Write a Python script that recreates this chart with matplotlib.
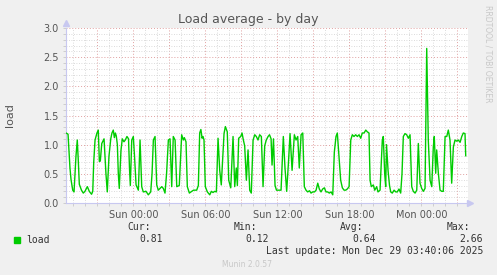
import matplotlib
matplotlib.use("Agg")
import matplotlib.pyplot as plt
from matplotlib.ticker import MultipleLocator, FuncFormatter

# ---- data: hours relative to Sun 00:00, load average ----
hours = [-5.61, -5.44, -5.28, -5.19, -5.05, -4.94, -4.78, -4.67, -4.58, -4.5,
         -4.32, -4.17, -4.03, -3.83, -3.67, -3.48, -3.38, -3.3, -3.19, -3.03,
         -2.92, -2.83, -2.75, -2.63, -2.44, -2.28, -2.17, -2.03, -1.88, -1.78,
         -1.67, -1.58, -1.5, -1.42, -1.33, -1.25, -1.17, -1.03, -0.92, -0.78,
         -0.67, -0.53, -0.4, -0.32, -0.25, -0.13, 0.0, 0.1, 0.23, 0.42,
         0.56, 0.7, 0.83, 1.06, 1.25, 1.45, 1.56, 1.67, 1.81, 1.95,
         2.08, 2.37, 2.5, 2.64, 2.77, 2.92, 3.06, 3.2, 3.33, 3.48,
         3.62, 3.83, 4.03, 4.17, 4.25, 4.39, 4.5, 4.67, 4.87, 5.02,
         5.14, 5.28, 5.42, 5.53, 5.63, 5.73, 5.81, 5.89, 6.0, 6.17,
         6.37, 6.5, 6.64, 6.78, 6.92, 7.06, 7.2, 7.33, 7.56, 7.67,
         7.83, 7.95, 8.12, 8.31, 8.45, 8.58, 8.67, 8.78, 8.95, 9.06,
         9.17, 9.28, 9.42, 9.56, 9.7, 9.83, 9.98, 10.12, 10.25, 10.39,
         10.53, 10.67, 10.81, 10.95, 11.08, 11.23, 11.35, 11.48, 11.56, 11.68,
         11.81, 11.93, 12.14, 12.31, 12.5, 12.64, 12.78, 12.93, 13.06, 13.23,
         13.42, 13.56, 13.7, 13.83, 13.98, 14.12, 14.25, 14.39, 14.53, 14.68,
         14.81, 14.95, 15.1, 15.23, 15.37, 15.5, 15.64, 15.78, 15.92, 16.06,
         16.2, 16.33, 16.48, 16.62, 16.75, 16.89, 17.0, 17.14, 17.28, 17.42,
         17.56, 17.7, 17.83, 17.98, 18.12, 18.25, 18.39, 18.53, 18.67, 18.81,
         18.95, 19.08, 19.23, 19.37, 19.5, 19.64, 19.73, 19.83, 20.0, 20.12,
         20.28, 20.39, 20.56, 20.75, 20.83, 20.95, 21.03, 21.1, 21.23, 21.35,
         21.45, 21.58, 21.73, 21.87, 22.0, 22.14, 22.28, 22.39, 22.5, 22.64,
         22.78, 22.92, 23.06, 23.2, 23.33, 23.48, 23.62, 23.75, 23.89, 24.03,
         24.17, 24.31, 24.45, 24.58, 24.73, 24.87, 25.0, 25.08, 25.2, 25.28,
         25.42, 25.56, 25.7, 25.83, 25.98, 26.12, 26.25, 26.39, 26.53, 26.67,
         26.81, 26.95, 27.08, 27.23, 27.37, 27.5, 27.64, 27.7]

load = [1.2, 1.18, 0.6, 0.4, 0.22, 0.19, 0.8, 1.08, 0.7, 0.32,
        0.22, 0.17, 0.2, 0.28, 0.2, 0.15, 0.2, 0.7, 1.08, 1.2,
        1.25, 0.71, 0.72, 1.02, 1.1, 0.5, 0.19, 0.8, 1.1, 1.2,
        1.25, 1.12, 1.2, 1.15, 1.0, 0.5, 0.25, 0.9, 1.1, 1.05,
        1.08, 1.14, 1.1, 0.6, 0.3, 1.08, 1.14, 0.8, 0.31, 0.22,
        1.08, 0.28, 0.19, 0.2, 0.14, 0.19, 0.5, 1.08, 1.14, 0.31,
        0.22, 0.28, 0.25, 0.17, 0.5, 1.08, 1.1, 0.28, 1.14, 1.08,
        0.28, 0.3, 1.17, 1.08, 1.12, 1.05, 0.28, 0.17, 0.2, 0.22,
        0.22, 0.22, 0.3, 1.2, 1.26, 1.11, 1.14, 1.08, 0.28, 0.19,
        0.14, 0.2, 0.18, 0.2, 0.19, 1.11, 0.56, 0.31, 1.19, 1.31,
        1.22, 0.39, 0.26, 1.14, 0.28, 0.6, 0.3, 1.11, 1.14, 1.2,
        1.08, 0.98, 0.39, 0.91, 0.22, 0.17, 1.08, 1.17, 1.14, 1.08,
        1.17, 1.14, 0.28, 0.98, 1.08, 1.14, 1.17, 1.1, 0.65, 1.1,
        0.3, 0.22, 0.22, 0.22, 1.14, 0.6, 0.2, 0.7, 1.19, 0.56,
        1.17, 1.08, 1.14, 0.6, 1.17, 1.2, 0.28, 0.22, 0.19, 0.21,
        0.17, 0.19, 0.19, 0.22, 0.34, 0.24, 0.19, 0.24, 0.26, 0.19,
        0.19, 0.17, 0.19, 0.14, 0.87, 1.14, 1.2, 0.8, 0.39, 0.26,
        0.22, 0.22, 0.24, 0.28, 1.08, 1.17, 1.14, 1.17, 1.14, 1.17,
        1.11, 1.2, 1.2, 1.25, 1.22, 1.2, 0.39, 0.28, 0.31, 0.22,
        0.28, 0.19, 0.22, 1.08, 1.14, 0.5, 0.28, 1.0, 0.55, 0.3,
        0.19, 0.17, 0.22, 0.19, 0.19, 0.24, 0.17, 0.5, 1.14, 1.19,
        1.17, 1.11, 1.17, 0.28, 0.2, 0.17, 0.22, 1.02, 0.34, 0.25,
        0.2, 0.25, 2.65, 1.08, 0.39, 0.28, 0.96, 1.14, 0.51, 0.91,
        0.51, 0.22, 0.2, 0.2, 1.14, 1.14, 1.25, 1.08, 0.34, 0.96,
        1.08, 1.06, 1.08, 1.04, 1.14, 1.2, 1.19, 0.81]

tick_hours = [0, 6, 12, 18, 24]
tick_labels = ["Sun 00:00", "Sun 06:00", "Sun 12:00", "Sun 18:00", "Mon 00:00"]
x_range = (-5.61, 27.89)
y_range = (0.0, 3.0)

series_name = "load"
stat_names = ["Cur:", "Min:", "Avg:", "Max:"]
stat_values = ["0.81", "0.12", "0.64", "2.66"]
title = "Load average - by day"
last_update = "Last update: Mon Dec 29 03:40:06 2025"
footer = "Munin 2.0.57"
side_text = "RRDTOOL / TOBI OETIKER"

# ---- figure ----
W, H = 497, 275
fig = plt.figure(figsize=(W / 100, H / 100), dpi=100, facecolor="#F0F0F0")
ax = fig.add_axes([66 / W, 1 - 203 / H, (468 - 66) / W, (203 - 28) / H])
ax.set_facecolor("white")

ax.plot(hours, load, color="#00CC00", lw=1.0, zorder=3)

ax.set_xlim(*x_range)
ax.set_ylim(*y_range)

ax.xaxis.set_major_locator(MultipleLocator(3))
ax.xaxis.set_minor_locator(MultipleLocator(1))
lab = dict(zip(tick_hours, tick_labels))
ax.xaxis.set_major_formatter(FuncFormatter(lambda v, p: lab.get(int(round(v)), "")))
ax.yaxis.set_major_locator(MultipleLocator(0.5))
ax.yaxis.set_minor_locator(MultipleLocator(0.1))
ax.yaxis.set_major_formatter(FuncFormatter(lambda v, p: f"{v:.1f}"))

dot = (0, (1, 2))
ax.grid(which="minor", color="#CFCFCF", lw=0.6, linestyle=dot, zorder=1)
ax.grid(which="major", color="#E0A0A0", lw=0.7, linestyle=dot, zorder=2)
ax.set_axisbelow(True)

ax.tick_params(which="both", length=2, width=0.6, color="#C8C8C8", labelcolor="#555555",
               labelsize=7, pad=3)

for s in ["top", "right"]:
    ax.spines[s].set_visible(False)
for s in ["left", "bottom"]:
    ax.spines[s].set_color("#C8C8F0")
    ax.spines[s].set_linewidth(0.8)
ax.plot([0], [1.03], marker="^", ms=4, color="#C8C8F0", transform=ax.transAxes, clip_on=False)
ax.plot([1.005], [0], marker=">", ms=4, color="#C8C8F0", transform=ax.transAxes, clip_on=False)

ax.set_ylabel("load", fontsize=8, color="#555555")
ax.yaxis.set_label_coords(-(66 - 15.5) / (468 - 66), 0.5)

fig.text(248 / W, 1 - 19 / H, title, ha="center", va="center", fontsize=9, color="#555555")
fig.text(488 / W, 1 - 5 / H, side_text, ha="center", va="top", rotation=270,
         fontsize=5.5, color="#C8C8C8")

mono = "DejaVu Sans Mono"
fig.patches.append(plt.Rectangle((14 / W, 1 - 242.5 / H), 5.5 / W, 5.5 / H,
                                 transform=fig.transFigure, color="#00CC00"))
fig.text(26 / W, 1 - 240 / H, series_name, family=mono, fontsize=7, color="#333333",
         va="center", ha="left")
name_right = [151, 257, 363, 470]
val_right = [163, 269, 376, 483]
for n, v, xn, xv in zip(stat_names, stat_values, name_right, val_right):
    fig.text(xn / W, 1 - 227.5 / H, n, family=mono, fontsize=7, color="#333333",
             va="center", ha="right")
    fig.text(xv / W, 1 - 239.5 / H, v, family=mono, fontsize=7, color="#333333",
             va="center", ha="right")
fig.text(483 / W, 1 - 251.5 / H, last_update, family=mono, fontsize=7, color="#333333",
         va="center", ha="right")
fig.text(247.5 / W, 1 - 264.5 / H, footer, fontsize=5.5, color="#C8C8C8",
         va="center", ha="center")

fig.savefig("out.png", dpi=100, facecolor=fig.get_facecolor())
